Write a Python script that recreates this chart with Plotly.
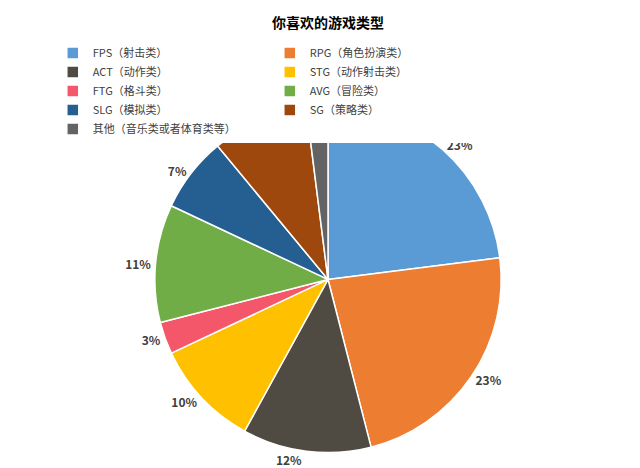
import plotly.graph_objects as go

labels = ["FPS（射击类）", "RPG（角色扮演类）", "ACT（动作类）", "STG（动作射击类）", "FTG（格斗类）",
          "AVG（冒险类）", "SLG（模拟类）", "SG（策略类）", "其他（音乐类或者体育类等）"]
values = [23, 23, 12, 10, 3, 11, 7, 9, 2]
colors = ["#5B9BD5", "#ED7D31", "#4F4A42", "#FFC000", "#F4566A", "#70AD47", "#255E91", "#9E480E", "#636363"]

fig = go.Figure(go.Pie(
    labels=labels, values=values, sort=False, direction="clockwise", rotation=0,
    marker=dict(colors=colors, line=dict(color="white", width=1.5)),
    textinfo="percent", texttemplate="<b>%{percent:.0%}</b>", textposition="outside",
    textfont=dict(size=12, color="#404040"),
    domain=dict(x=[0.22, 0.78], y=[0.05, 0.79]),
))
fig.update_layout(
    width=640, height=468, margin=dict(l=0, r=0, t=0, b=0),
    paper_bgcolor="white",
    font=dict(family="Noto Sans CJK SC", color="#404040"),
    title=dict(text="<b>你喜欢的游戏类型</b>", x=0.5, y=0.968, xanchor="center", yanchor="middle",
               font=dict(size=14, color="#000")),
    legend=dict(orientation="h", x=0.07, y=0.935, xanchor="left", yanchor="top",
                entrywidth=172, entrywidthmode="pixels", font=dict(size=11, color="#404040"),
                itemwidth=30, tracegroupgap=0),
)
fig.write_html("out.html")
